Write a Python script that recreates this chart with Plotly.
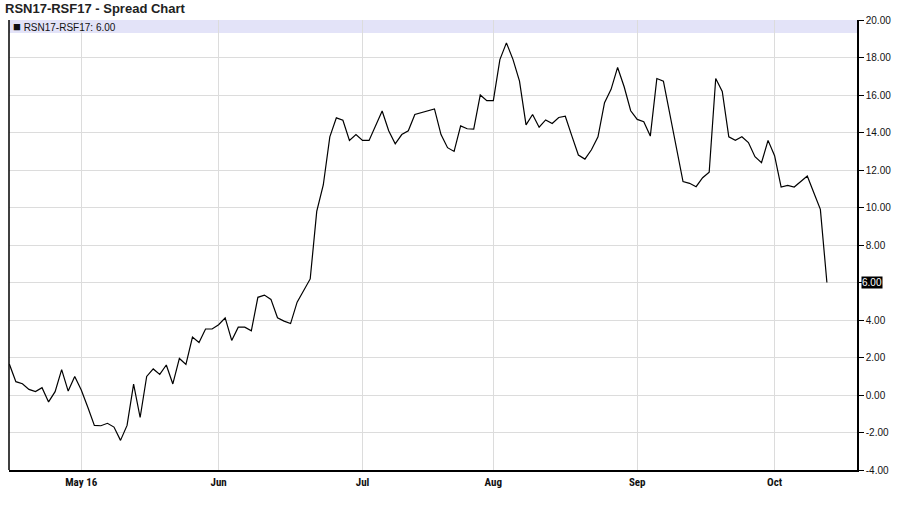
import plotly.graph_objects as go
import pandas as pd

# ---- data ----
holidays = ["2016-05-23", "2016-07-01", "2016-08-01", "2016-09-05", "2016-10-10"]
all_days = pd.bdate_range("2016-04-15", "2016-10-14")
dates = [d for d in all_days if d.strftime("%Y-%m-%d") not in holidays]

spread = [
    1.65, 0.71, 0.60, 0.30, 0.18, 0.39, -0.37, 0.18, 1.35, 0.21,
    0.99, 0.27, -0.65, -1.62, -1.64, -1.51, -1.71, -2.42, -1.62, 0.58,
    -1.20, 0.99, 1.39, 1.10, 1.60, 0.59, 1.95, 1.63, 3.09, 2.80,
    3.52, 3.52, 3.75, 4.11, 2.91, 3.62, 3.62, 3.42, 5.21, 5.33,
    5.10, 4.12, 3.94, 3.81, 4.95, 5.60, 6.19, 9.79, 11.20, 13.77,
    14.78, 14.65, 13.58, 13.89, 13.58, 13.58, 14.35, 15.15, 14.09, 13.40,
    13.89, 14.09, 14.96, 15.06, 15.15, 15.26, 13.89, 13.19, 12.99, 14.35,
    14.20, 14.18, 16.00, 15.70, 15.70, 17.89, 18.78, 17.90, 16.74, 14.41,
    14.96, 14.28, 14.67, 14.48, 14.80, 14.87, 13.82, 12.80, 12.58, 13.08,
    13.77, 15.59, 16.30, 17.47, 16.44, 15.16, 14.70, 14.57, 13.81, 16.88,
    16.74, 15.02, 13.24, 11.38, 11.29, 11.11, 11.59, 11.88, 16.88, 16.19,
    13.77, 13.58, 13.77, 13.46, 12.71, 12.39, 13.58, 12.76, 11.09, 11.18,
    11.09, 11.38, 11.68, 10.79, 9.90, 6.00,
]

month_labels = ["May 16", "Jun", "Jul", "Aug", "Sep", "Oct"]
y_ticks = [-4, -2, 0, 2, 4, 6, 8, 10, 12, 14, 16, 18, 20]
y_ticktext = [("%.2f" % v) if v != 6 else " " for v in y_ticks]

title_text = "RSN17-RSF17 - Spread Chart"
legend_text = "RSN17-RSF17: 6.00"
last_label = "6.00"

# ---- derived positions ----
idx = list(range(len(spread)))
month_idx = []
prev = None
for i, d in enumerate(dates):
    if prev is not None and d.month != prev:
        month_idx.append(i)
    prev = d.month

fig = go.Figure()
fig.add_trace(go.Scatter(
    x=idx, y=spread, mode="lines",
    line=dict(color="black", width=1.2),
    customdata=[d.strftime("%Y-%m-%d") for d in dates],
    hovertemplate="%{customdata}: %{y:.2f}<extra></extra>",
    showlegend=False,
))

fig.update_layout(
    width=897, height=513,
    margin=dict(l=9, r=40, t=20, b=43, autoexpand=False),
    paper_bgcolor="white", plot_bgcolor="white",
    font=dict(family="Liberation Sans, Arial, sans-serif", size=10, color="black"),
    xaxis=dict(
        range=[-0.05, 129.6], automargin=False,
        tickvals=month_idx, ticktext=month_labels,
        showgrid=True, gridcolor="#dcdcdc", gridwidth=1,
        zeroline=False, ticks="",
        showline=True, linecolor="black", linewidth=1.5, mirror=False,
        tickfont=dict(family="Liberation Sans Narrow, Arial Narrow, Roboto Condensed, Liberation Sans",
                      size=11, color="#111", weight="bold"),
        ticklabelstandoff=1,
    ),
    yaxis=dict(
        side="right", range=[-4, 20], automargin=False,
        tickvals=y_ticks, ticktext=y_ticktext,
        showgrid=True, gridcolor="#dcdcdc", gridwidth=1,
        zeroline=False, ticks="outside", ticklen=5, tickcolor="black",
        showline=True, linecolor="black", linewidth=1.5,
        tickfont=dict(family="Liberation Sans, Arial, sans-serif", size=10, color="#111"),
    ),
    shapes=[
        dict(type="line", xref="paper", yref="paper", x0=0, x1=0, y0=0, y1=1,
             line=dict(color="black", width=1.5)),
        dict(type="rect", xref="paper", yref="paper", x0=0, x1=1,
             y0=1 - 13 / 450, y1=1, fillcolor="#e3e3f8", line=dict(width=0), layer="below"),
    ],
    annotations=[
        dict(text="<b>" + title_text + "</b>", xref="paper", yref="paper",
             x=-6 / 848, y=1 + 11 / 450, xanchor="left", yanchor="middle",
             showarrow=False, font=dict(family="Liberation Sans, Arial", size=13, color="#222")),
        dict(text="<span style='font-size:13px'>\u25a0</span> " + legend_text, xref="paper", yref="paper",
             x=2 / 848, y=1 - 6.5 / 450, xanchor="left", yanchor="middle",
             showarrow=False, font=dict(family="Liberation Sans, Arial", size=10, color="#111")),
        dict(text=last_label, xref="paper", yref="y", x=1, y=spread[-1],
             xanchor="left", yanchor="middle", xshift=4, showarrow=False,
             bgcolor="black", borderpad=0,
             font=dict(family="Liberation Sans Narrow, Liberation Sans", size=10, color="white")),
    ],
)

fig.write_html("out.html", config={"displayModeBar": False},
               post_script="document.body.style.margin='0';document.body.style.padding='0';")
